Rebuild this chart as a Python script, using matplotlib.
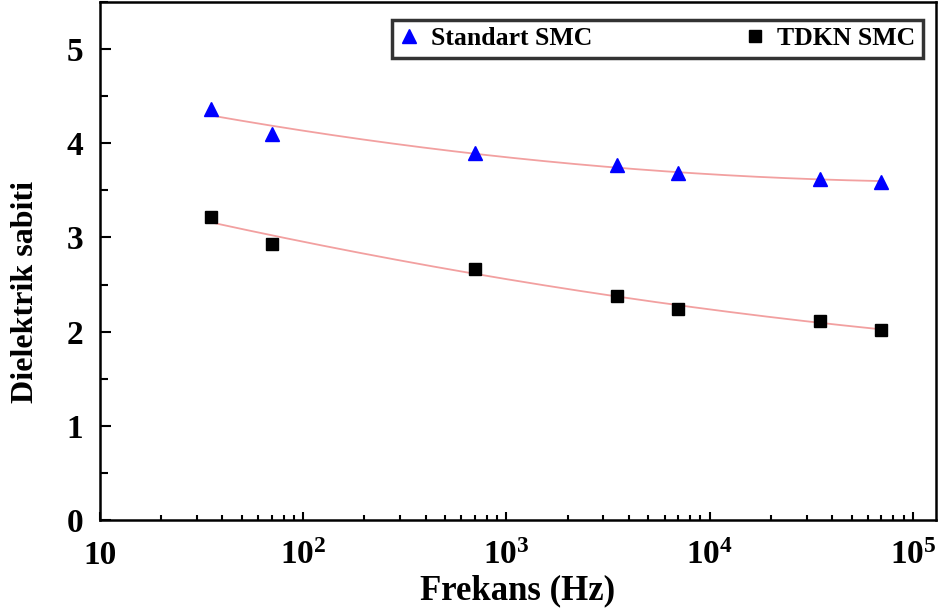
import numpy as np
import matplotlib
matplotlib.use('Agg')
import matplotlib.pyplot as plt
from matplotlib.ticker import FixedLocator, MultipleLocator, FuncFormatter

# Veriler
frekans = [35, 70, 700, 3500, 7000, 35000, 70000]
standart_smc = [4.36, 4.10, 3.90, 3.77, 3.68, 3.62, 3.59]
tdkn_smc = [3.22, 2.93, 2.67, 2.38, 2.24, 2.11, 2.02]
x_ticks = [10, 100, 1000, 10000, 100000]
x_tick_labels = ['10', r'$\mathregular{10^{2}}$', r'$\mathregular{10^{3}}$',
                 r'$\mathregular{10^{4}}$', r'$\mathregular{10^{5}}$']

plt.rcParams['font.family'] = 'Liberation Serif'
plt.rcParams['font.weight'] = 'bold'
plt.rcParams['mathtext.fontset'] = 'custom'
plt.rcParams['mathtext.rm'] = 'Liberation Serif:bold'
plt.rcParams['mathtext.it'] = 'Liberation Serif:bold'
plt.rcParams['mathtext.bf'] = 'Liberation Serif:bold'

fig = plt.figure(figsize=(9.38, 6.12), dpi=100)
ax = fig.add_axes([100 / 938, 1 - 520 / 612, 836 / 938, 518 / 612])

# Uyum eğrileri (log x'e göre 2. derece)
x_fit = np.logspace(np.log10(frekans[0]), np.log10(frekans[-1]), 200)
for veri in [standart_smc, tdkn_smc]:
    katsayi = np.polyfit(np.log10(frekans), veri, 2)
    ax.plot(x_fit, np.polyval(katsayi, np.log10(x_fit)), color='#f2a0a0', lw=1.3, zorder=2)

ax.plot(frekans, standart_smc, '^', color='#0000ff', ms=10.5, ls='none',
        label='Standart SMC', zorder=3)
ax.plot(frekans, tdkn_smc, 's', color='black', ms=9, ls='none',
        label='TDKN SMC', zorder=3)

ax.set_xscale('log')
ax.set_xlim(10, 1.3e5)
ax.set_ylim(0, 5.5)

ax.xaxis.set_major_locator(FixedLocator(x_ticks))
ax.xaxis.set_major_formatter(FuncFormatter(lambda v, p: x_tick_labels[x_ticks.index(v)] if v in x_ticks else ''))
ax.yaxis.set_major_locator(MultipleLocator(1))
ax.yaxis.set_minor_locator(MultipleLocator(0.5))

for s in ax.spines.values():
    s.set_linewidth(1.8)

ax.tick_params(axis='both', which='both', direction='in', top=False, right=False, width=1.5)
ax.tick_params(axis='x', which='major', length=6, labelsize=24, pad=32)
ax.tick_params(axis='x', which='minor', length=3.5)
ax.tick_params(axis='y', which='major', length=8, labelsize=24, pad=12)
ax.tick_params(axis='y', which='minor', length=6)
for lbl in ax.get_xticklabels():
    lbl.set_verticalalignment('baseline')

ax.set_xlabel('Frekans (Hz)', fontsize=25, fontweight='bold', labelpad=2)
ax.set_ylabel('Dielektrik sabiti', fontsize=23, fontweight='bold')
ax.yaxis.set_label_coords(-0.072, 0.44)

leg = ax.legend(loc='upper right', bbox_to_anchor=(0.984, 0.966), ncol=2,
                fontsize=18.5, frameon=True, fancybox=False, edgecolor='black',
                handlelength=0.7, handletextpad=0.5, columnspacing=6.0,
                borderpad=0.3, borderaxespad=0)
leg.get_frame().set_linewidth(2.5)

plt.savefig('out.png', dpi=100)
plt.close()
